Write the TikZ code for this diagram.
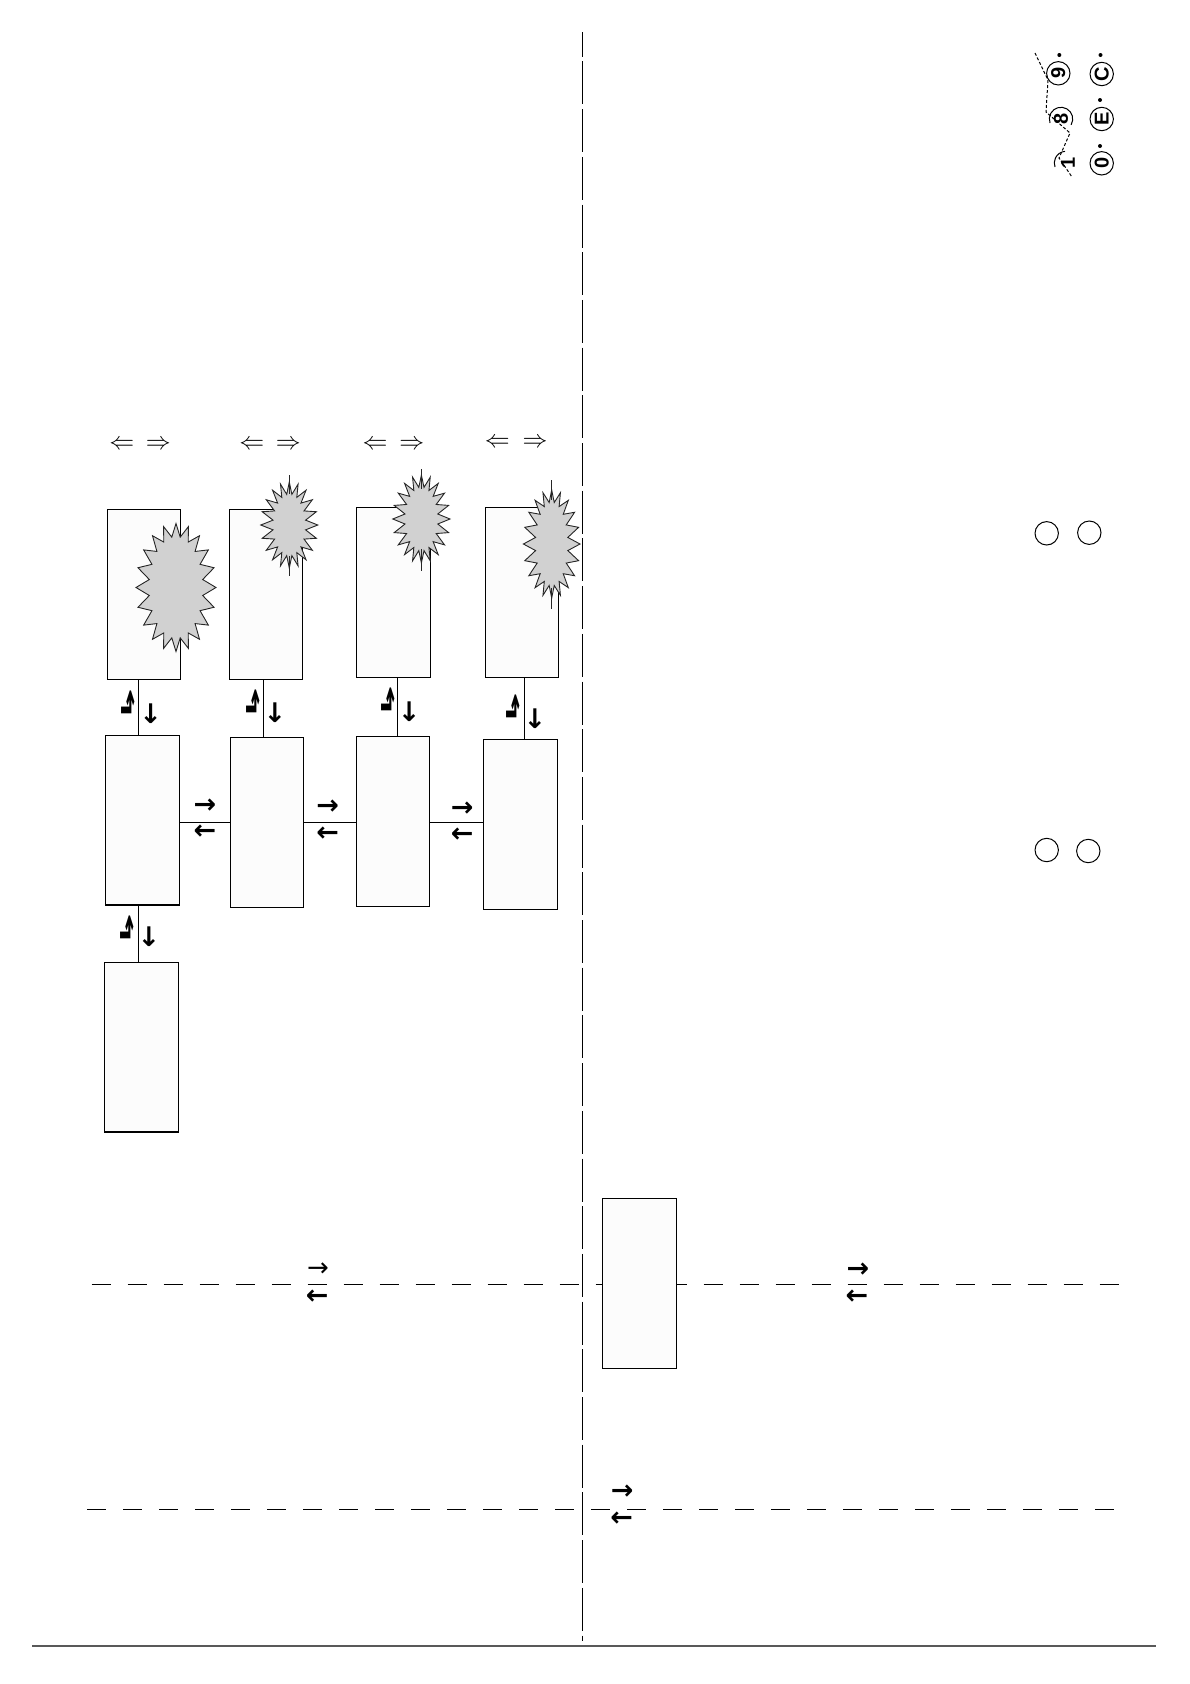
\documentclass[tikz,border=0pt]{standalone}
\usepackage{fontspec}
\setmainfont{Liberation Sans}
\newfontfamily\arrowfont{DejaVu Sans}
\newfontfamily\arrowboldfont{DejaVu Sans Bold}
\usetikzlibrary{calc}
\newcommand\burstshape[6]{%
  \filldraw[burst, shift={(#1,#2)}] plot[samples at={0,#5,...,359}]
    ({(#3-#6*mod(round(\x/#5),2))*cos(\x)},{(#4-#6*mod(round(\x/#5),2))*sin(\x)}) -- cycle;}
\begin{document}
\begin{tikzpicture}[x=1pt,y=-1pt,
  box/.style={draw, line width=1.2pt, fill=black!1, minimum width=73pt, minimum height=170pt, inner sep=0pt, outer sep=0pt},
  conn/.style={line width=1pt},
  glyph/.style={inner sep=0pt, font=\arrowboldfont\fontsize{27}{27}\selectfont},
  hookglyph/.style={inner sep=0pt, xscale=0.5, yscale=1.6, transform shape, font=\arrowboldfont\fontsize{36}{36}\selectfont},
  thinglyph/.style={inner sep=0pt, font=\arrowfont\fontsize{26}{26}\selectfont},
  dbl/.style={inner sep=0pt, font=\fontsize{27}{27}\selectfont},
  burst/.style={draw=black!85, line width=0.9pt, fill=black!18},
  spike/.style={draw=black!85, line width=0.9pt},
  ring/.style={circle, draw, line width=1pt, minimum size=23.4pt, inner sep=0pt},
  rtext/.style={inner sep=0pt, rotate=90, font=\bfseries\fontsize{20}{20}\selectfont},
  dashline/.style={line width=1.2pt, dash pattern=on 19pt off 17pt},
  centreline/.style={line width=1.4pt, dash pattern=on 43pt off 4.7pt, dash phase=18.6pt},
  tear/.style={line width=1pt, dash pattern=on 3pt off 2pt}
]
\useasboundingbox (0,0) rectangle (1190,1684);

% centre line and bottom rule
\coordinate (ct) at (582.5,32.3);
\coordinate (cb) at (582.5,1640.7);
\draw[centreline] (ct) -- (cb);
\coordinate (r1) at (32,1646);
\coordinate (r2) at (1155.6,1646);
\draw[line width=1.5pt, draw=black!65] (r1) -- (r2);

% top double arrows
\foreach \a/\b/\y [count=\i] in {121.7/158.3/445, 251.7/288.3/445, 375/411.7/445, 497.3/535/443.3}{
  \node[dbl] (dl\i) at (\a,\y) {$\Leftarrow$};
  \node[dbl] (dr\i) at (\b,\y) {$\Rightarrow$};
}

% upper boxes
\node[box] (u1) at (143.8,594.3) {};
\node[box] (u2) at (265.8,594.3) {};
\node[box, minimum width=74pt] (u3) at (393.3,592.3) {};
\node[box] (u4) at (521.8,592.3) {};

% bursts
\burstshape{176}{587.5}{40}{64}{9}{13}
\burstshape{289.3}{525}{28.5}{43}{9}{12}
\draw[spike] (289.3,475) -- (289.3,494);
\draw[spike] (289.3,556) -- (289.3,576);
\burstshape{421.4}{519}{28.6}{44}{9}{12}
\draw[spike] (421.4,469) -- (421.4,489);
\draw[spike] (421.4,549) -- (421.4,571);
\burstshape{551.7}{544}{28.3}{54}{9}{12}
\draw[spike] (551.7,480) -- (551.7,500);
\draw[spike] (551.7,588) -- (551.7,609);

% middle boxes
\node[box, minimum width=73.6pt, minimum height=169.7pt] (m1) at (142.5,820.2) {};
\node[box] (m2) at (266.8,822.3) {};
\node[box] (m3) at (392.8,821.3) {};
\node[box, minimum width=73.6pt] (m4) at (520.5,824.3) {};

% lower box
\node[box, minimum width=74pt, minimum height=169.7pt] (l1) at (141.3,1047.2) {};

% vertical connectors
\draw[conn] (u1.south) ++(-5.5,0) coordinate (v1) -- (v1 |- m1.north);
\draw[conn] (u2.south) ++(-2.5,0) coordinate (v2) -- (v2 |- m2.north);
\draw[conn] (u3.south) ++(4,0) coordinate (v3) -- (v3 |- m3.north);
\draw[conn] (u4.south) ++(2.5,0) coordinate (v4) -- (v4 |- m4.north);
\draw[conn] (m1.south) ++(-3.8,0) coordinate (v5) -- (v5 |- l1.north);

% horizontal connectors
\coordinate (hy) at (0,822.3);
\draw[conn] (m1.east |- hy) -- (m2.west |- hy);
\draw[conn] (m2.east |- hy) -- (m3.west |- hy);
\draw[conn] (m3.east |- hy) -- (m4.west |- hy);

% vertical arrow glyphs
\foreach \ux/\uy/\dx/\dy [count=\i] in {128.3/709.3/150.7/713.3, 253.3/709/275/713, 387.7/707/409.3/711.7, 512.7/714/535/719, 126.7/935/149/936.7}{
  \node[hookglyph] (hu\i) at (\ux,\uy) {⬏};
  \node[glyph] (hd\i) at (\dx,\dy) {↓};
}

% horizontal arrow glyphs
\foreach \x/\ya/\yb [count=\i] in {205/806/832.7, 327.7/807.7/834.3, 462.3/809/835.7}{
  \node[glyph] (pr\i) at (\x,\ya) {→};
  \node[glyph] (pl\i) at (\x,\yb) {←};
}

% dashed line A with box
\coordinate (a1) at (91.5,1284.3);
\coordinate (a2) at (1119,1284.3);
\draw[dashline] (a1) -- (a2);
\node[box, minimum width=74pt] (rb) at (639.4,1283.3) {};
\node[thinglyph] (ar1) at (318,1270) {→};
\node[glyph] (al1) at (317.3,1296.7) {←};
\node[glyph] (ar2) at (858,1270) {→};
\node[glyph] (al2) at (857,1296.7) {←};

% dashed line B
\coordinate (b1) at (87.4,1509.3);
\coordinate (b2) at (1117,1509.3);
\draw[dashline] (b1) -- (b2);
\node[glyph] (br) at (622.3,1492.3) {→};
\node[glyph] (bl) at (621.7,1519) {←};

% right circles
\node[ring] (c1) at (1046.7,533.3) {};
\node[ring] (c2) at (1089.3,532.7) {};
\node[ring] (c3) at (1046.7,850) {};
\node[ring] (c4) at (1088.3,851) {};

% top right rotated labels
\node[ring] (k9) at (1058.3,73.3) {};
\node[rtext] (t9) at (k9) {9};
\coordinate (k8) at (1061,119);
\draw[line width=1pt] (k8) ++(30:11.7) arc[start angle=30, end angle=-200, radius=11.7];
\node[rtext] (t8) at (k8) {8};
\coordinate (k1) at (1066,163);
\draw[line width=1pt] (k1) ++(-95:11.7) arc[start angle=-95, end angle=-200, radius=11.7];
\node[rtext] (t1) at (1068,163.3) {1};
\node[ring] (kc) at (1101.7,74) {};
\node[rtext] (tc) at (kc) {C};
\node[ring] (ke) at (1101.7,119) {};
\node[rtext] (te) at (ke) {E};
\node[ring] (k0) at (1101.7,163.3) {};
\node[rtext] (t0) at (k0) {0};
\draw[tear] (1035,53) -- (1048,80) -- (1046,112) -- (1070,133) -- (1059,158) -- (1072,177);
\foreach \p in {(1059.3,55),(1100.5,55),(1100,100),(1100,146)}{
  \fill \p circle[radius=2];
}
\end{tikzpicture}
\end{document}
